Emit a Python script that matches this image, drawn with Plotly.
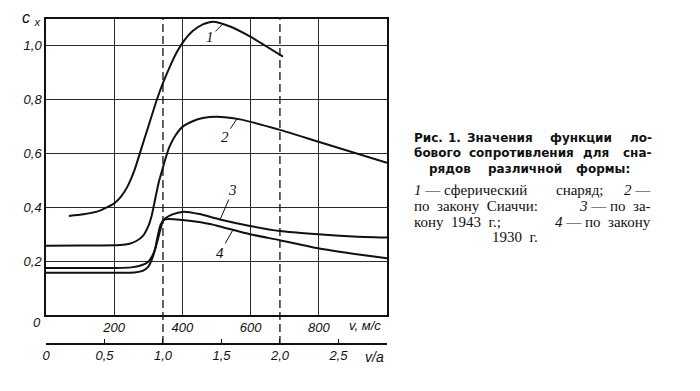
import plotly.graph_objects as go

# ---------------- data ----------------
sound_speed = 343  # m/s, v/a = 1 at this speed

# curve 1 - spherical projectile
v1 = [67, 110, 158, 200, 220, 240, 260, 280, 300, 325, 344, 364, 385, 405, 430, 460, 490, 540, 598, 695]
c1 = [0.368, 0.374, 0.388, 0.415, 0.44, 0.48, 0.54, 0.62, 0.70, 0.80, 0.865, 0.925, 0.98, 1.02, 1.055, 1.08, 1.09, 1.072, 1.035, 0.96]

# curve 2 - Siacci law
v2 = [0, 100, 217, 245, 265, 285, 300, 310, 320, 330, 340, 350, 362, 380, 401, 430, 460, 500, 569, 686, 799, 1000]
c2 = [0.257, 0.258, 0.26, 0.265, 0.275, 0.295, 0.33, 0.37, 0.43, 0.49, 0.535, 0.58, 0.625, 0.668, 0.70, 0.72, 0.732, 0.737, 0.727, 0.688, 0.644, 0.566]

# curve 3 - law of 1943
v3 = [0, 200, 260, 285, 300, 310, 320, 327, 336, 350, 373, 405, 450, 510, 598, 686, 798, 900, 1000]
c3 = [0.157, 0.157, 0.158, 0.165, 0.18, 0.205, 0.245, 0.29, 0.335, 0.36, 0.375, 0.384, 0.375, 0.355, 0.331, 0.312, 0.30, 0.292, 0.288]

# curve 4 - law of 1930
v4 = [0, 200, 250, 280, 300, 312, 320, 330, 339, 344, 360, 420, 481, 598, 686, 798, 900, 1000]
c4 = [0.175, 0.175, 0.177, 0.185, 0.198, 0.22, 0.245, 0.29, 0.335, 0.353, 0.357, 0.35, 0.338, 0.30, 0.278, 0.248, 0.228, 0.211]

v_ticks = [200, 400, 600, 800]
v_ticktext = ["200", "400", "600", "800"]
cx_ticks = [0.2, 0.4, 0.6, 0.8, 1.0]
cx_ticktext = ["0,2", "0,4", "0,6", "0,8", "1,0"]
mach_ticks = [0, 0.5, 1.0, 1.5, 2.0, 2.5]
mach_ticktext = ["0", "0,5", "1,0", "1,5", "2,0", "2,5"]
mach_lines = [1.0, 2.0]

# curve labels: (text, v at leader end, cx at leader end, dx, dy in px)
curve_labels = [("1", 519, 1.082, -13, 13), ("2", 560, 0.729, -12, 18),
                ("3", 510, 0.353, 13, -30), ("4", 548, 0.316, -13, 23)]

NB = "\u00a0"
# caption pieces: (text, x px, y px, anchor)
caption_bold = [
    ("Рис.", 413, 138, "left"), ("1.", 447, 138, "left"), ("Значения", 466, 138, "left"),
    ("функции", 549, 138, "left"), ("ло-", 653, 138, "right"),
    ("бового", 413, 153, "left"), ("сопротивления", 468, 153, "left"), ("для", 582, 153, "left"),
    ("сна-", 653, 153, "right"),
    ("рядов", 428, 169, "left"), ("различной", 487, 169, "left"), ("формы:", 575, 169, "left"),
]
caption_plain = [
    ("<i>1</i> — сферический", 413, 190, "left"),
    ("снаряд;", 555, 190, "left"),
    ("<i>2</i>" + NB + "—", 652, 190, "right"),
    ("по" + NB * 2 + "закону" + NB * 2 + "Сиаччи:", 413, 206, "left"),
    ("<i>3</i> — по" + NB * 2 + "за-", 652, 206, "right"),
    ("кону" + NB * 2 + "1943" + NB * 2 + "г.;", 413, 222, "left"),
    ("<i>4</i> — по" + NB * 2 + "закону", 652, 222, "right"),
    ("1930" + NB * 2 + "г.", 515, 237, "center"),
]

# ---------------- layout geometry ----------------
L, R, T, B = 46, 313, 19, 47
W = 700 - L - R
H = 391 - T - B
ydom0 = (344 - 315) / H
INK = "#111111"
tick_font = dict(family="Liberation Sans", size=13, color=INK, style="italic")


def px_x(px):
    return (px - L) / W


def px_y(py):
    return (391 - B - py) / H


fig = go.Figure()
for v, c in [(v1, c1), (v2, c2), (v3, c3), (v4, c4)]:
    fig.add_trace(go.Scatter(x=v, y=c, mode="lines",
                             line=dict(color=INK, width=2, shape="spline", smoothing=0.6),
                             showlegend=False, hoverinfo="skip"))
# invisible trace carrying the v/a axis
fig.add_trace(go.Scatter(x=mach_ticks, y=[None] * len(mach_ticks), xaxis="x2", yaxis="y",
                         mode="markers", showlegend=False, hoverinfo="skip"))

# dashed lines at v/a = 1 and 2
for m in mach_lines:
    fig.add_shape(type="line", xref="x", yref="paper", x0=m * sound_speed, x1=m * sound_speed,
                  y0=0, y1=1, line=dict(color=INK, width=1.3, dash="8px,4px"), layer="above")

fig.update_layout(
    width=700, height=391,
    margin=dict(l=L, r=R, t=T, b=B),
    paper_bgcolor="white", plot_bgcolor="white", showlegend=False,
    xaxis=dict(range=[0, 1000], tickvals=v_ticks, ticktext=v_ticktext, showgrid=True,
               gridcolor="#2a2a2a", gridwidth=1, showline=True, linecolor=INK, linewidth=1.5,
               mirror=True, ticks="", zeroline=False, tickfont=tick_font, anchor="y"),
    yaxis=dict(domain=[ydom0, 1], range=[0, 1.1], tickvals=cx_ticks, ticktext=cx_ticktext,
               showgrid=True, gridcolor="#2a2a2a", gridwidth=1, showline=True, linecolor=INK,
               linewidth=1.5, mirror=True, ticks="", zeroline=False, tickfont=tick_font),
    xaxis2=dict(overlaying="x", anchor="free", position=0, side="bottom",
                range=[0, 1000 / sound_speed], tickvals=mach_ticks, ticktext=mach_ticktext,
                ticks="inside", ticklen=4, tickcolor=INK, showline=True, linecolor=INK,
                linewidth=1.5, showgrid=False, zeroline=False, tickfont=tick_font),
)

ann = []
for text, vx, cy, dx, dy in curve_labels:
    ann.append(dict(x=vx, y=cy, xref="x", yref="y", text=text, showarrow=True, arrowhead=0,
                    arrowwidth=1, arrowcolor=INK, ax=dx, ay=dy,
                    font=dict(family="Liberation Serif", size=15, color=INK, style="italic")))


def add_text(text, px, py, font, anchor="center"):
    ann.append(dict(x=px_x(px), y=px_y(py), xref="paper", yref="paper", text=text,
                    showarrow=False, xanchor=anchor, yanchor="middle", borderpad=0, font=font))


# axis captions
add_text("c <sub>x</sub>", 31, 18, dict(family="Liberation Sans", size=16, color=INK, style="italic"))
add_text("0", 37, 322, tick_font)
add_text("v, м/с", 365, 325, tick_font)
add_text("v/a", 374, 357, dict(family="Liberation Sans", size=14, color=INK, style="italic"))

bold_font = dict(family="DejaVu Sans", size=12, color=INK, weight="bold")
plain_font = dict(family="Liberation Serif", size=15, color=INK)
for text, px, py, anchor in caption_bold:
    add_text(text, px, py, bold_font, anchor)
for text, px, py, anchor in caption_plain:
    add_text(text, px, py, plain_font, anchor)

fig.update_layout(annotations=ann)

fig.write_html("out.html", config={"displayModeBar": False},
               post_script="document.body.style.margin='0';")
